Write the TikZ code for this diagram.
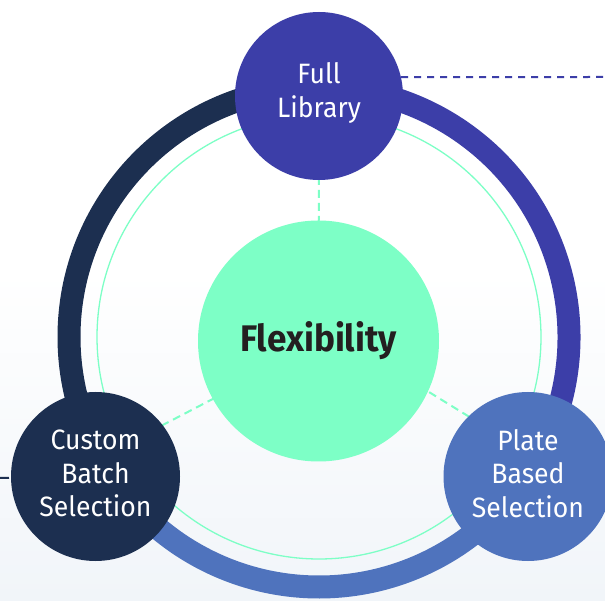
\documentclass[tikz,border=0pt]{standalone}
\usepackage{fontspec}
\setmainfont{Fira Sans}
\newfontfamily\nodefont{Fira Sans}[FakeStretch=0.95]
\newfontfamily\flexfont{Fira Sans}[FakeStretch=0.95]
\usetikzlibrary{calc}
\definecolor{navy}{HTML}{1C2F50}
\definecolor{indig}{HTML}{3C3EA8}
\definecolor{bluec}{HTML}{4F73BD}
\definecolor{mint}{HTML}{7DFFC6}
\definecolor{ink}{HTML}{231F20}
\definecolor{bgc}{HTML}{F1F5F9}
\pgfdeclarelayer{back}
\pgfdeclarelayer{bg}
\pgfsetlayers{back,bg,main}
\begin{document}
\begin{tikzpicture}[x=1pt,y=1pt,
  ringseg/.style={line width=23pt},
  nodecirc/.style={circle, inner sep=0pt, minimum size=169pt},
  nodetext/.style={text=white, align=center, inner sep=0pt, yshift=3pt,
    font=\nodefont\fontsize{28}{33.5}\selectfont},
  mintdash/.style={mint, line width=2pt, dash pattern=on 8pt off 5pt},
  linkdash/.style={line width=2pt, dash pattern=on 7pt off 6pt}
]
\useasboundingbox (0,0) rectangle (605,600);
\begin{pgfonlayer}{back}
  \fill[white] (0,0) rectangle (605,600);
  \shade[top color=white, bottom color=bgc] (0,0) rectangle (605,330);
  \coordinate (rc) at (319,263);
  \draw[ringseg, navy] ($(rc)+(90:250pt)$) arc[start angle=90, end angle=212, radius=250pt];
  \draw[ringseg, bluec] ($(rc)+(212:250pt)$) arc[start angle=212, end angle=326.3, radius=250pt];
  \draw[ringseg, indig] ($(rc)+(-33.7:250pt)$) arc[start angle=-33.7, end angle=90, radius=250pt];
  \draw[mint, line width=1.3pt] (rc) circle[radius=222pt];
\end{pgfonlayer}

\node[nodecirc, fill=indig, minimum size=168pt,
      label={[nodetext, name=fullt]center:{Full\\Library}}] (full) at (319,504) {};
\node[circle, fill=mint, minimum size=241pt, inner sep=0pt, text=ink,
      font=\flexfont\bfseries\fontsize{37}{40}\selectfont] (flex) at (318.5,259) {Flexibility};
\node[nodecirc, fill=navy,
      label={[nodetext, name=customt]center:{Custom\\Batch\\Selection}}] (custom) at (95.5,123.5) {};
\node[nodecirc, fill=bluec,
      label={[nodetext, name=platet]center:{Plate\\Based\\Selection}}] (plate) at (528,123.5) {};

\coordinate (fr) at (605,523);
\coordinate (cl) at (0,122);
\begin{pgfonlayer}{bg}
  \draw[mintdash] (flex.center) -- (full.center);
  \draw[mintdash] ($(flex.center)+(0,-3)$) -- ($(custom.center)+(0,16.5)$);
  \draw[mintdash] ($(flex.center)+(0,17)$) -- ($(plate.center)+(0,23.5)$);
  \draw[linkdash, indig] (full.13) -- (fr);
  \draw[navy, line width=2pt, dash pattern=on 9pt off 6pt] (cl) -- (custom.center);
\end{pgfonlayer}
\end{tikzpicture}
\end{document}
